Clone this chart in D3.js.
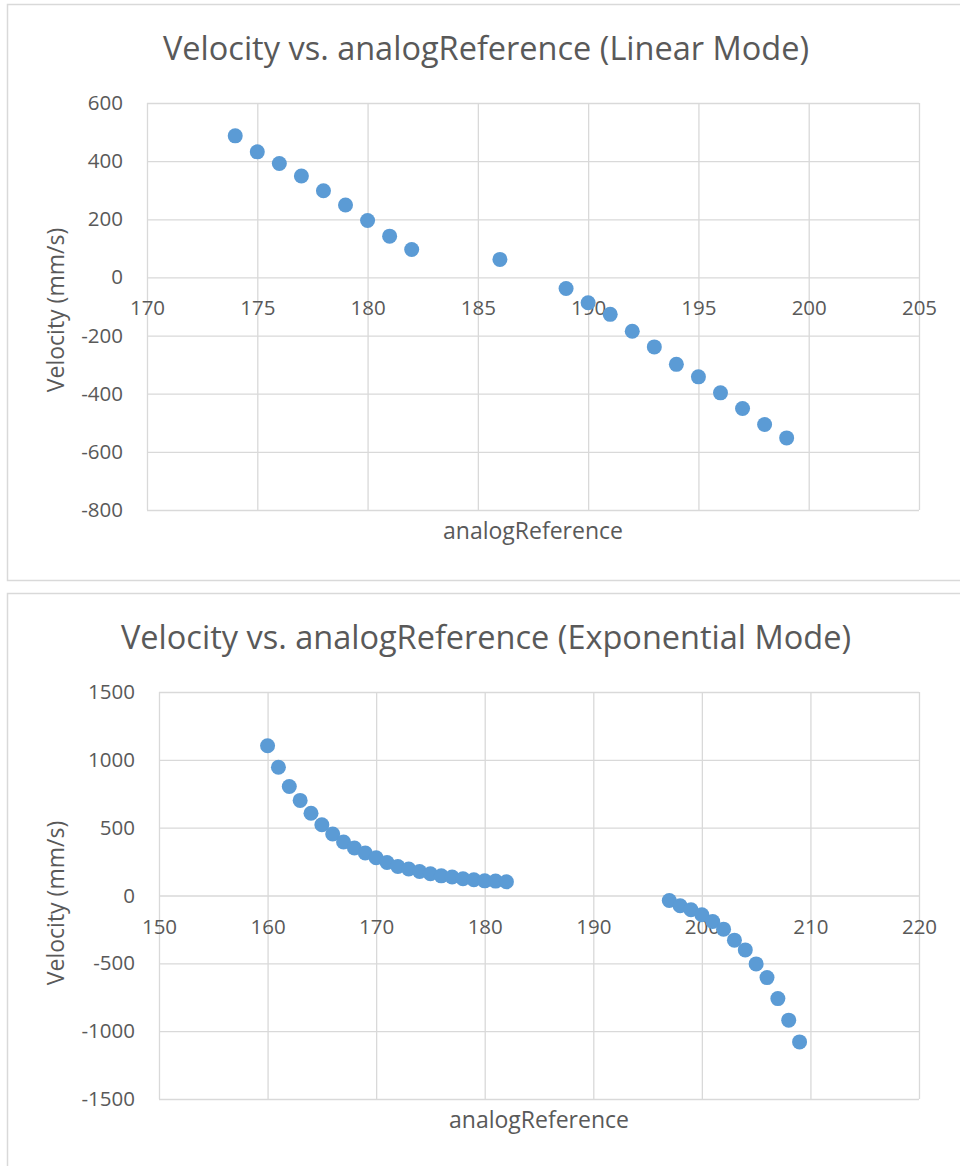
<!DOCTYPE html>
<html>
<head>
<meta charset="utf-8">
<script src="https://cdn.jsdelivr.net/npm/d3@7"></script>
<style>
  html, body { margin: 0; padding: 0; background: #fff; }
  svg { display: block; font-family: "Open Sans", sans-serif; }
</style>
</head>
<body>
<svg id="svg" width="960" height="1166"></svg>
<script>
// Linear mode data
const linearRef = [174, 175, 176, 177, 178, 179, 180, 181, 182, 186, 189, 190, 191, 192, 193, 194, 195, 196, 197, 198, 199];
const linearVel = [487, 432, 392, 349, 298, 249, 196, 142, 96, 62, -38, -87, -127, -185, -239, -299, -342, -397, -451, -506, -552];
const linearXTicks = [170, 175, 180, 185, 190, 195, 200, 205];
const linearYTicks = [600, 400, 200, 0, -200, -400, -600, -800];

// Exponential mode data
const expRef = [160, 161, 162, 163, 164, 165, 166, 167, 168, 169, 170, 171, 172, 173, 174, 175, 176, 177, 178, 179, 180, 181, 182,
                197, 198, 199, 200, 201, 202, 203, 204, 205, 206, 207, 208, 209];
const expVel = [1104, 945, 803, 701, 606, 521, 453, 394, 350, 313, 278, 243, 214, 195, 177, 160, 145, 136, 123, 116, 108, 106, 101,
                -37, -76, -105, -142, -192, -248, -329, -401, -504, -605, -760, -919, -1079];
const expXTicks = [150, 160, 170, 180, 190, 200, 210, 220];
const expYTicks = [1500, 1000, 500, 0, -500, -1000, -1500];

const svg = d3.select("#svg");
const textColor = "#595959";
const gridColor = "#d9d9d9";
const dotColor = "#5b9bd5";
const plain = d => String(d); // excel style: "-200", "1500"

function drawChart(cfg) {
  const g = svg.append("g").attr("transform", `translate(0, ${cfg.top})`);

  // panel border
  g.append("rect")
    .attr("x", 7.5).attr("y", 0.5)
    .attr("width", 970).attr("height", cfg.panelH)
    .attr("fill", "#fff")
    .attr("stroke", gridColor)
    .attr("stroke-width", 1.5);

  const x = d3.scaleLinear().domain(d3.extent(cfg.xTicks)).range([cfg.left, 919]);
  const y = d3.scaleLinear().domain(d3.extent(cfg.yTicks)).range([506, 99]);

  // gridlines
  const xGrid = g.append("g")
    .attr("transform", `translate(0, ${y.range()[0]})`)
    .call(d3.axisBottom(x).tickValues(cfg.xTicks).tickSize(-(y.range()[0] - y.range()[1])).tickFormat(""));
  const yGrid = g.append("g")
    .attr("transform", `translate(${cfg.left}, 0)`)
    .call(d3.axisLeft(y).tickValues(cfg.yTicks).tickSize(-(919 - cfg.left)).tickFormat(""));
  [xGrid, yGrid].forEach(a => {
    a.select(".domain").remove();
    a.selectAll("line").attr("stroke", gridColor).attr("stroke-width", 1.3);
  });

  // tick labels
  const xLab = g.append("g")
    .attr("transform", `translate(0, ${y(0)})`)
    .call(d3.axisBottom(x).tickValues(cfg.xTicks).tickSize(0).tickFormat(plain));
  xLab.selectAll("text").attr("y", 38).attr("dy", null);
  const yLab = g.append("g")
    .attr("transform", `translate(${cfg.left}, 0)`)
    .call(d3.axisLeft(y).tickValues(cfg.yTicks).tickSize(0).tickPadding(24).tickFormat(plain));
  [xLab, yLab].forEach(a => {
    a.select(".domain").remove();
    a.selectAll("text")
      .attr("fill", textColor)
      .style("font-family", "'Open Sans', sans-serif")
      .style("font-size", "20.5px");
  });

  // points
  g.append("g").selectAll("circle")
    .data(cfg.ref.map((r, i) => [r, cfg.vel[i]]))
    .join("circle")
    .attr("cx", d => x(d[0]))
    .attr("cy", d => y(d[1]))
    .attr("r", 7.5)
    .attr("fill", dotColor);

  // titles
  g.append("text")
    .attr("x", 486).attr("y", 56)
    .attr("text-anchor", "middle")
    .attr("fill", textColor)
    .style("font-size", "32.5px")
    .text(cfg.title);
  g.append("text")
    .attr("x", (cfg.left + 919) / 2).attr("y", 535)
    .attr("text-anchor", "middle")
    .attr("fill", textColor)
    .style("font-size", "23px")
    .text("analogReference");
  g.append("text")
    .attr("transform", `translate(64, ${cfg.yTitleY}) rotate(-90)`)
    .attr("text-anchor", "middle")
    .attr("fill", textColor)
    .style("font-size", "23px")
    .text("Velocity (mm/s)");
}

drawChart({
  top: 4, panelH: 576, left: 147,
  xTicks: linearXTicks, yTicks: linearYTicks,
  ref: linearRef, vel: linearVel,
  title: "Velocity vs. analogReference (Linear Mode)",
  yTitleY: 306
});

drawChart({
  top: 593, panelH: 600, left: 159,
  xTicks: expXTicks, yTicks: expYTicks,
  ref: expRef, vel: expVel,
  title: "Velocity vs. analogReference (Exponential Mode)",
  yTitleY: 310
});
</script>
</body>
</html>
